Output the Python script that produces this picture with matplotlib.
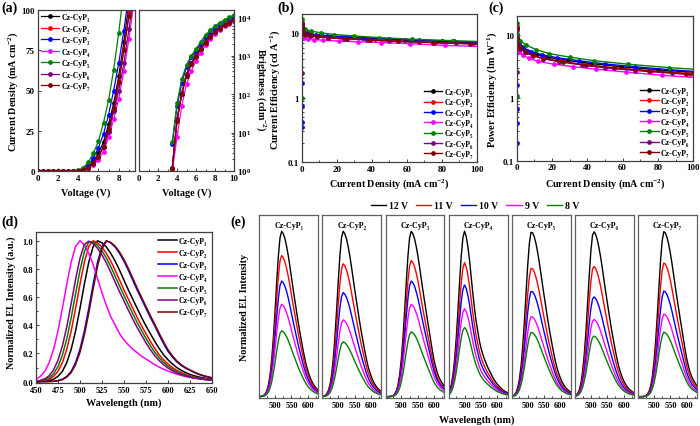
import numpy as np
import matplotlib
matplotlib.use("Agg")
import matplotlib.pyplot as plt
from matplotlib.ticker import MultipleLocator, FixedLocator, FixedFormatter, NullFormatter, NullLocator

plt.rcParams["font.family"] = ["Liberation Serif", "DejaVu Serif"]
plt.rcParams["font.weight"] = "bold"
plt.rcParams["axes.labelweight"] = "bold"
plt.rcParams["mathtext.fontset"] = "custom"
plt.rcParams["mathtext.rm"] = "Liberation Serif:bold"
plt.rcParams["mathtext.it"] = "Liberation Serif:bold:italic"
plt.rcParams["mathtext.bf"] = "Liberation Serif:bold"

names = ["Cz-CyP₁", "Cz-CyP₂", "Cz-CyP₃", "Cz-CyP₄", "Cz-CyP₅", "Cz-CyP₆", "Cz-CyP₇"]
colors = ["black", "red", "blue", "magenta", "#008000", "#800080", "#800000"]

# ---- (a) J-V-L ----
volt = [0, 0.5, 1.0, 1.5, 2.0, 2.5, 3.0, 3.5, 4.0, 4.5, 5.0, 5.5, 6.0, 6.5, 7.0, 7.5, 8.0, 8.5, 9.0, 9.5]
jv_j = [
    [0, 0, 0, 0, 0, 0, 0, 0.008, 0.18, 1.0, 2.8, 6, 11, 18, 29, 42, 59, 80, 104, 130],
    [0, 0, 0, 0, 0, 0, 0, 0.005, 0.15, 0.8, 2.2, 5, 9, 15, 25, 38, 55, 76, 98, 122],
    [0, 0, 0, 0, 0, 0, 0, 0.02, 0.25, 1.5, 3.8, 8, 14.5, 23, 35, 50, 67, 87, 110, 135],
    [0, 0, 0, 0, 0, 0, 0, 0.002, 0.05, 0.4, 1.4, 3.5, 7, 12, 21, 32, 45, 62, 82, 105],
    [0, 0, 0, 0, 0, 0, 0, 0.03, 0.45, 2.0, 5.5, 11, 18.5, 30, 44, 63, 86, 112, 140, 170],
    [0, 0, 0, 0, 0, 0, 0, 0.003, 0.1, 0.6, 1.8, 4.5, 9, 15, 24, 37, 50, 67, 88, 110],
    [0, 0, 0, 0, 0, 0, 0, 0.004, 0.12, 0.7, 2.0, 5, 9, 15, 26, 39, 55, 75, 96, 118],
]
volt_l = [3.5, 4.0, 4.5, 5.0, 5.5, 6.0, 6.5, 7.0, 7.5, 8.0, 8.5, 9.0, 9.5, 10.0]
lum = [
    [1.2, 22, 110, 330, 650, 1050, 1600, 2400, 3300, 4300, 5400, 6500, 7600, 8600],
    [1.1, 20, 100, 310, 620, 1000, 1550, 2300, 3200, 4200, 5300, 6400, 7500, 8500],
    [5, 48, 200, 500, 900, 1350, 2000, 3000, 4000, 5200, 6500, 7700, 8800, 10000],
    [1.0, 7.5, 50, 180, 400, 750, 1200, 1900, 2700, 3600, 4700, 5800, 6900, 8000],
    [5.6, 58, 245, 580, 1000, 1500, 2300, 3500, 4600, 6000, 7300, 8700, 10000, 11500],
    [1.2, 22, 100, 300, 600, 1000, 1500, 2300, 3200, 4200, 5300, 6300, 7400, 8500],
    [1.1, 20, 100, 300, 600, 950, 1500, 2200, 3100, 4100, 5100, 6200, 7200, 8300],
]

# ---- (b), (c) efficiencies ----
eff_j = [
    [0.008, 0.18, 1.0, 2.8, 6, 11, 18, 29, 42, 59, 80, 104, 130],
    [0.005, 0.15, 0.8, 2.2, 5, 9, 15, 25, 38, 55, 76, 98, 122],
    [0.0002, 0.0005, 0.001, 0.002, 0.005, 0.02, 0.25, 1.5, 3.8, 8, 14.5, 23, 35, 50, 67, 87, 110],
    [0.002, 0.05, 0.4, 1.4, 3.5, 7, 12, 21, 32, 45, 62, 82, 105],
    [0.0005, 0.03, 0.45, 2.0, 5.5, 11, 18.5, 30, 44, 63, 86, 112, 140],
    [0.0005, 0.003, 0.1, 0.6, 1.8, 4.5, 9, 15, 24, 37, 50, 67, 88, 110],
    [0.004, 0.12, 0.7, 2.0, 5, 9, 15, 26, 39, 55, 75, 96, 118],
]
ce = [
    [14, 12.5, 11, 10, 9.6, 9.3, 9.0, 8.7, 8.3, 7.9, 7.5, 7.1, 6.8],
    [15, 12, 10.5, 9.7, 9.3, 9.0, 8.7, 8.4, 8.0, 7.6, 7.2, 6.9, 6.6],
    [0.06, 0.35, 0.42, 0.75, 1.7, 11.5, 10.8, 10.2, 9.8, 9.5, 9.2, 8.9, 8.6, 8.2, 7.9, 7.5, 7.2],
    [9.5, 9.0, 8.7, 8.5, 8.3, 8.0, 7.8, 7.6, 7.4, 7.2, 6.9, 6.5, 6.2],
    [1.0, 17, 13, 11.5, 10.8, 10.2, 9.6, 9.1, 8.6, 8.1, 7.7, 7.3, 7.0],
    [2.4, 13, 11, 10, 9.6, 9.2, 8.9, 8.6, 8.3, 7.9, 7.6, 7.3, 7.0, 6.7],
    [14, 11.5, 10.3, 9.7, 9.3, 9.0, 8.6, 8.3, 7.9, 7.5, 7.2, 6.9, 6.6],
]
pe = [
    [12.6, 9.8, 7.7, 6.3, 5.5, 4.87, 4.35, 3.9, 3.48, 3.1, 2.77, 2.48, 2.25],
    [13.5, 9.4, 7.3, 6.1, 5.3, 4.7, 4.2, 3.77, 3.35, 2.98, 2.66, 2.41, 2.18],
    [0.07, 0.19, 0.4, 0.65, 1.6, 10.3, 8.5, 7.1, 6.2, 5.4, 4.8, 4.3, 3.86, 3.43, 3.1, 2.77, 2.51],
    [8.5, 7.1, 6.1, 5.3, 4.75, 4.2, 3.77, 3.4, 3.1, 2.83, 2.55, 2.27, 2.05],
    [1.05, 15.3, 10.2, 8.0, 6.8, 5.8, 5.0, 4.4, 3.86, 3.4, 3.0, 2.7, 2.44],
    [2.6, 11.7, 8.6, 7.0, 6.0, 5.25, 4.66, 4.16, 3.72, 3.3, 2.98, 2.7, 2.44, 2.2],
    [12.6, 9.0, 7.2, 6.1, 5.3, 4.7, 4.16, 3.72, 3.3, 2.95, 2.66, 2.41, 2.18],
]

# ---- (d) normalized EL spectra, 450-650 nm every 5 nm ----
wl = [450, 455, 460, 465, 470, 475, 480, 485, 490, 495, 500, 505, 510, 515, 520, 525, 530,
      535, 540, 545, 550, 555, 560, 565, 570, 575, 580, 585, 590, 595, 600, 605, 610, 615,
      620, 625, 630, 635, 640, 645, 650]
el = [
    [0, 0.001, 0.003, 0.007, 0.017, 0.037, 0.073, 0.135, 0.230, 0.360, 0.520, 0.693, 0.849, 0.960,
     1.0, 0.985, 0.955, 0.910, 0.855, 0.790, 0.720, 0.650, 0.585, 0.520, 0.455, 0.395, 0.340,
     0.285, 0.235, 0.190, 0.155, 0.125, 0.100, 0.080, 0.064, 0.051, 0.041, 0.033, 0.026, 0.021, 0.017],
    [0.001, 0.003, 0.007, 0.017, 0.037, 0.073, 0.135, 0.230, 0.360, 0.520, 0.693, 0.849, 0.960, 1.0,
     0.985, 0.955, 0.910, 0.855, 0.790, 0.720, 0.650, 0.585, 0.520, 0.455, 0.395, 0.340, 0.285,
     0.235, 0.190, 0.155, 0.125, 0.100, 0.080, 0.064, 0.051, 0.041, 0.033, 0.026, 0.021, 0.017, 0.013],
    [0, 0, 0, 0.001, 0.003, 0.007, 0.017, 0.037, 0.073, 0.135, 0.230, 0.360, 0.520, 0.693, 0.849,
     0.960, 1.0, 0.985, 0.955, 0.910, 0.855, 0.790, 0.720, 0.650, 0.585, 0.520, 0.455, 0.395,
     0.330, 0.270, 0.215, 0.175, 0.140, 0.115, 0.095, 0.080, 0.064, 0.051, 0.041, 0.033, 0.026],
    [0.017, 0.037, 0.073, 0.135, 0.230, 0.360, 0.520, 0.693, 0.849, 0.960, 1.0, 0.970, 0.910, 0.830,
     0.730, 0.630, 0.540, 0.460, 0.400, 0.340, 0.295, 0.260, 0.230, 0.205, 0.180, 0.160, 0.140,
     0.120, 0.103, 0.088, 0.075, 0.064, 0.053, 0.044, 0.036, 0.030, 0.025, 0.020, 0.016, 0.013, 0.010],
    [0.002, 0.005, 0.012, 0.027, 0.056, 0.107, 0.188, 0.304, 0.454, 0.624, 0.790, 0.923, 0.993,
     0.991, 0.967, 0.928, 0.877, 0.816, 0.748, 0.678, 0.611, 0.546, 0.481, 0.419, 0.362, 0.307,
     0.255, 0.208, 0.169, 0.137, 0.110, 0.088, 0.070, 0.056, 0.045, 0.036, 0.029, 0.023, 0.019, 0.015, 0.011],
    [0.003, 0.009, 0.020, 0.042, 0.083, 0.152, 0.253, 0.390, 0.555, 0.726, 0.876, 0.974, 0.997,
     0.979, 0.946, 0.899, 0.842, 0.776, 0.706, 0.637, 0.572, 0.507, 0.443, 0.384, 0.329, 0.275,
     0.226, 0.183, 0.149, 0.120, 0.096, 0.077, 0.061, 0.049, 0.039, 0.032, 0.025, 0.020, 0.016, 0.012, 0.010],
    [0, 0, 0, 0, 0.002, 0.006, 0.014, 0.032, 0.064, 0.121, 0.208, 0.332, 0.487, 0.659, 0.821,
     0.943, 0.998, 0.988, 0.961, 0.919, 0.866, 0.803, 0.734, 0.664, 0.598, 0.533, 0.468, 0.407,
     0.343, 0.282, 0.226, 0.183, 0.147, 0.120, 0.099, 0.083, 0.067, 0.054, 0.043, 0.035, 0.027],
]

# ---- (e) peak heights at each driving voltage ----
drive = ["12 V", "11 V", "10 V", "9 V", "8 V"]
drive_colors = ["black", "red", "blue", "magenta", "#008000"]
peak_h = [
    [1.0, 0.853, 0.699, 0.558, 0.398],
    [1.0, 0.803, 0.629, 0.464, 0.331],
    [1.0, 0.823, 0.699, 0.558, 0.392],
    [1.0, 0.810, 0.675, 0.532, 0.418],
    [1.0, 0.780, 0.640, 0.486, 0.390],
    [1.0, 0.790, 0.605, 0.468, 0.367],
    [1.0, 0.810, 0.640, 0.500, 0.390],
]

W, H = 700, 427
fig = plt.figure(figsize=(W / 100, H / 100), dpi=100)


def px_axes(x0, y0, x1, y1):
    return fig.add_axes([x0 / W, 1 - y1 / H, (x1 - x0) / W, (y1 - y0) / H])


def ftext(x, y, s, **kw):
    fig.text(x / W, 1 - y / H, s, ha="center", va="center", **kw)


def style(ax, size=6.5):
    for s in ax.spines.values():
        s.set_linewidth(0.9)
        s.set_color("#404040")
    ax.tick_params(which="both", direction="in", labelsize=size, width=0.7, color="#404040", pad=2)
    ax.tick_params(which="major", length=2.5)
    ax.tick_params(which="minor", length=1.5)


LBL = 7.3
LEG = 5.6
leg_kw = dict(frameon=False, fontsize=LEG, handlelength=2.4, handletextpad=0.3, borderpad=0.2)

# (a) left: J-V
ax = px_axes(37.5, 11, 135, 172)
for i in range(7):
    ax.plot(volt, jv_j[i], "-o", color=colors[i], lw=0.9, ms=2.4, label=names[i])
ax.set_xlim(0, 9.6)
ax.set_ylim(0, 100)
ax.xaxis.set_major_locator(MultipleLocator(2))
ax.xaxis.set_minor_locator(MultipleLocator(1))
ax.yaxis.set_major_locator(MultipleLocator(25))
style(ax)
ax.legend(loc="upper left", labelspacing=0.45, borderaxespad=0.2, **leg_kw)
ftext(13, 92, "Current Density (mA cm$^{-2}$)", rotation=90, fontsize=LBL)
ftext(86, 193, "Voltage (V)", fontsize=LBL)

# (a) right: L-V
ax = px_axes(139, 11, 234, 172)
for i in range(7):
    ax.plot(volt_l, lum[i], "-o", color=colors[i], lw=0.9, ms=2.4)
ax.set_yscale("log")
ax.set_xlim(0, 10)
ax.set_ylim(1, 1.55e4)
ax.xaxis.set_major_locator(MultipleLocator(2))
ax.xaxis.set_minor_locator(MultipleLocator(1))
ax.yaxis.tick_right()
style(ax)
ftext(187, 193, "Voltage (V)", fontsize=LBL)
ftext(261, 90, "Brightness (cdm$^{-2}$)", rotation=270, fontsize=LBL)

# (b) CE and (c) PE
for (x0, y0, x1, y1, data, ylab, yl) in [
    (301.7, 15, 477, 163, ce, "Current Efficiency (cd A$^{-1}$)", 275),
    (516.7, 16.7, 693.3, 161.7, pe, "Power Efficiency (lm W$^{-1}$)", 492),
]:
    ax = px_axes(x0, y0, x1, y1)
    for i in range(7):
        ax.plot(eff_j[i], data[i], "-o", color=colors[i], lw=1.0, ms=2.4, label=names[i])
    ax.set_yscale("log")
    ax.set_xlim(0, 100)
    ax.set_ylim(0.1, 20)
    ax.xaxis.set_major_locator(MultipleLocator(20))
    ax.xaxis.set_minor_locator(MultipleLocator(10))
    ax.yaxis.set_major_locator(FixedLocator([0.1, 1, 10]))
    ax.yaxis.set_major_formatter(FixedFormatter(["0.1", "1", "10"]))
    ax.yaxis.set_minor_formatter(NullFormatter())
    style(ax)
    ax.legend(loc="lower right", labelspacing=0.3, borderaxespad=0.3, **leg_kw)
    ftext(yl, 90, ylab, rotation=90, fontsize=LBL)
    ftext((x0 + x1) / 2, 184, "Current Density (mA cm$^{-2}$)", fontsize=LBL)

# (d) normalized EL
ax = px_axes(36, 233.3, 212, 384)
for i in range(7):
    ax.plot(wl, el[i], color=colors[i], lw=1.1, label=names[i])
ax.set_xlim(450, 650)
ax.set_ylim(-0.01, 1.06)
ax.xaxis.set_major_locator(MultipleLocator(25))
ax.yaxis.set_major_locator(MultipleLocator(0.2))
ax.yaxis.set_minor_locator(MultipleLocator(0.1))
ax.yaxis.set_major_formatter(plt.FormatStrFormatter("%.1f"))
style(ax, 6)
ax.legend(loc="upper right", labelspacing=0.5, borderaxespad=0.4, **leg_kw)
ftext(11, 303, "Normalized EL Intensity (a.u.)", rotation=90, fontsize=LBL)
ftext(124, 403, "Wavelength (nm)", fontsize=LBL)

# (e) voltage-dependent EL
for k in range(7):
    x0 = 259.3 + k * 63.15
    ax = px_axes(x0, 215.7, x0 + 58.8, 399.3)
    for v in range(5):
        ax.plot(wl, np.array(el[k]) * peak_h[k][v], color=drive_colors[v], lw=1.0,
                label=drive[v] if k == 0 else None)
    ax.set_xlim(452, 631)
    ax.set_ylim(-0.01, 1.1)
    ax.xaxis.set_major_locator(FixedLocator([500, 550, 600]))
    ax.xaxis.set_minor_locator(FixedLocator([475, 525, 575, 625]))
    ax.yaxis.set_major_locator(NullLocator())
    style(ax, 6)
    for s in ax.spines.values():
        s.set_color("#606060")
    ax.text(0.5, 0.965, names[k], transform=ax.transAxes, ha="center", va="top", fontsize=5.8)
    if k == 0:
        handles, labels = ax.get_legend_handles_labels()
fig.legend(handles, labels, loc="center", bbox_to_anchor=(475 / W, 1 - 207 / H), ncol=5,
           frameon=False, fontsize=7, handlelength=1.6, handletextpad=0.3, columnspacing=0.8,
           borderpad=0.1)
ftext(245, 307, "Normalized EL Intensity", rotation=90, fontsize=LBL)
ftext(477, 420, "Wavelength (nm)", fontsize=LBL)

# panel letters
for lab, x, y in [("(a)", 9, 8), ("(b)", 286, 8), ("(c)", 496, 8), ("(d)", 10, 222), ("(e)", 238, 222)]:
    ftext(x, y, lab, fontsize=10)

fig.savefig("out.png", dpi=100)
